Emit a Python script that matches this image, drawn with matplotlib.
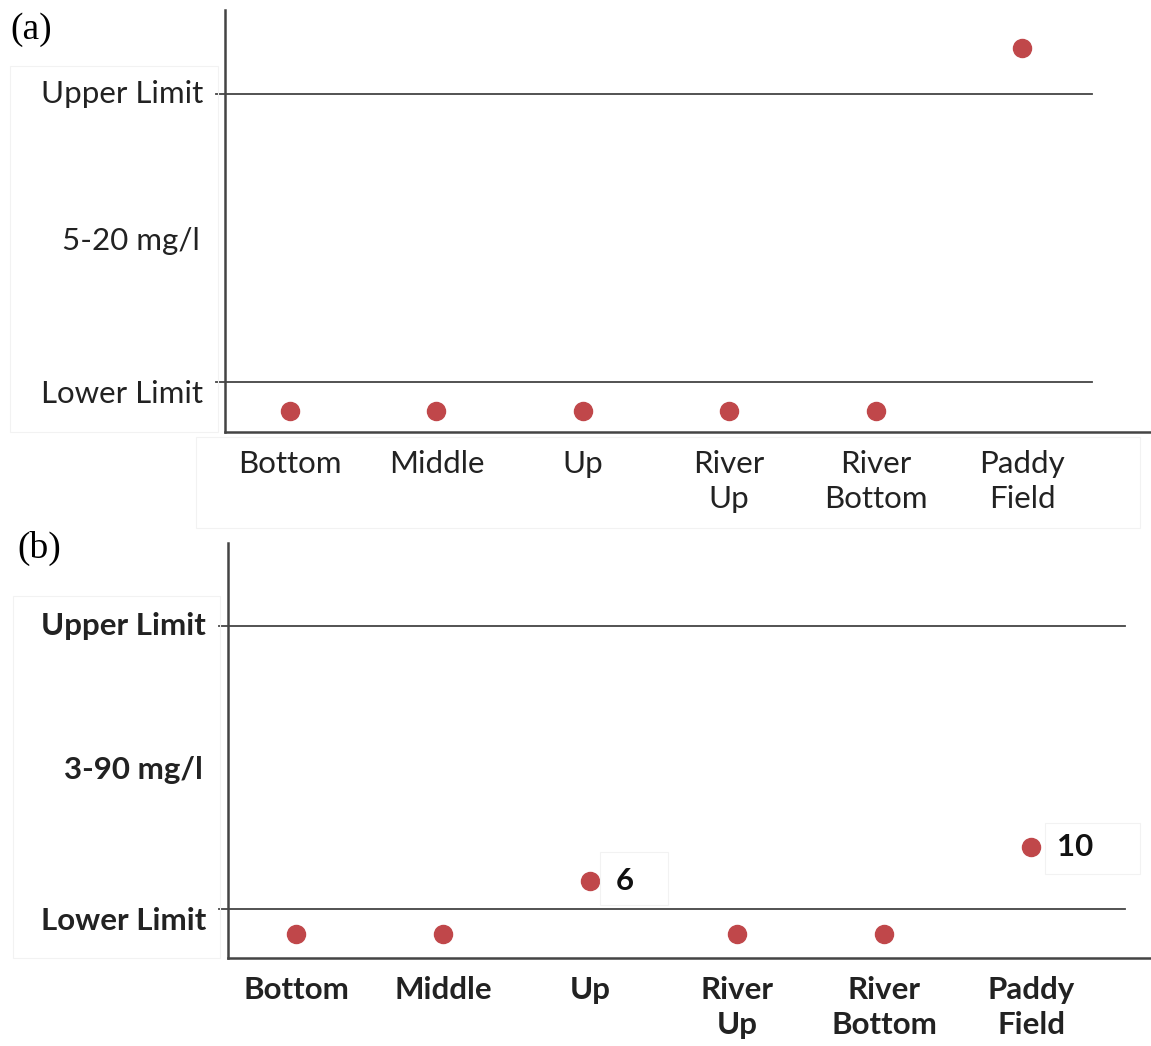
import matplotlib
matplotlib.use("Agg")
import matplotlib.pyplot as plt
from matplotlib.patches import Rectangle

# ---------------- data ----------------
categories = ["Bottom", "Middle", "Up", "River\nUp", "River\nBottom", "Paddy\nField"]
# relative position: 0 = lower limit, 1 = upper limit (schematic chart)
a_values = [-0.10, -0.10, -0.10, -0.10, -0.10, 1.16]
b_values = [-0.09, -0.09, 0.10, -0.09, -0.09, 0.22]
b_point_labels = ["", "", "6", "", "", "10"]
a_range_label = "5-20 mg/l"
b_range_label = "3-90 mg/l"
limit_labels = ["Upper Limit", "Lower Limit"]
limits = [1.0, 0.0]

W, H = 1151, 1046
fig = plt.figure(figsize=(W / 100, H / 100), dpi=100)
fig.patch.set_facecolor("white")

DOT = "#C0474A"
LINE = "#444444"
SANS = ["Lato", "DejaVu Sans"]
SERIF = ["Liberation Serif", "DejaVu Serif"]
FS = 22.5


def px_axes(left, top, right, bottom):
    return fig.add_axes([left / W, 1 - bottom / H, (right - left) / W, (bottom - top) / H])


def faint_box(x0, y0, x1, y1):
    fig.patches.append(Rectangle((x0 / W, 1 - y1 / H), (x1 - x0) / W, (y1 - y0) / H,
                                 transform=fig.transFigure, fill=False,
                                 edgecolor="#f2f2f2", linewidth=0.8, zorder=0))


def panel(ax, values, range_label, weight, xlim, ylim, line_end, point_labels=None):
    ax.set_xlim(*xlim)
    ax.set_ylim(*ylim)
    for s in ["top", "right"]:
        ax.spines[s].set_visible(False)
    for s in ["left", "bottom"]:
        ax.spines[s].set_color(LINE)
        ax.spines[s].set_linewidth(1.8)
    # limit lines
    for lv in limits:
        ax.plot([xlim[0] - 0.06, line_end], [lv, lv], color=LINE, lw=1.3,
                clip_on=False, zorder=2)
    # points
    ax.plot(range(len(categories)), values, linestyle="none", marker="o",
            markersize=13, color=DOT, markeredgecolor=DOT, zorder=3)
    if point_labels:
        for i, (v, lab) in enumerate(zip(values, point_labels)):
            if lab:
                ax.annotate(lab, xy=(i, v), xytext=(26, 0), textcoords="offset pixels",
                            ha="left", va="center", fontsize=FS, fontweight="bold",
                            family=SANS, color="#111111")
    # x tick labels
    ax.set_xticks(range(len(categories)))
    ax.set_xticklabels(categories, family=SANS, fontsize=FS, fontweight=weight,
                       color="#222222", linespacing=1.3)
    ax.tick_params(axis="x", length=0, pad=13)
    ax.set_yticks([])
    # y labels
    ax.annotate(limit_labels[0], xy=(0, limits[0]), xycoords=("axes fraction", "data"),
                xytext=(-22, 0), textcoords="offset pixels", ha="right", va="center",
                fontsize=FS, fontweight=weight, family=SANS, color="#222222")
    ax.annotate(limit_labels[1], xy=(0, limits[1]), xycoords=("axes fraction", "data"),
                xytext=(-22, -12), textcoords="offset pixels", ha="right", va="center",
                fontsize=FS, fontweight=weight, family=SANS, color="#222222")
    ax.annotate(range_label, xy=(0, (limits[0] + limits[1]) / 2), xycoords=("axes fraction", "data"),
                xytext=(-25, -3), textcoords="offset pixels", ha="right", va="center",
                fontsize=FS, fontweight=weight, family=SANS, color="#222222")


# panel (a)
ax1 = px_axes(225, 10, 1151, 432)
panel(ax1, a_values, a_range_label, "normal",
      xlim=((225 - 290) / 146.4, (1151 - 290) / 146.4),
      ylim=((382 - 432) / 288, (382 - 10) / 288),
      line_end=(1092 - 290) / 146.4)

# panel (b)
ax2 = px_axes(228, 543, 1151, 958)
panel(ax2, b_values, b_range_label, "bold",
      xlim=((228 - 296) / 147, (1151 - 296) / 147),
      ylim=((909 - 958) / 283, (909 - 543) / 283),
      line_end=(1125 - 296) / 147, point_labels=b_point_labels)

# faint text-box outlines
faint_box(10, 66, 218, 432)
faint_box(196, 437, 1140, 528)
faint_box(13, 596, 220, 958)
faint_box(600, 852, 668, 905)
faint_box(1045, 823, 1140, 874)

fig.text(10 / W, 1 - 30 / H, "(a)", family=SERIF, fontsize=27, va="center", ha="left")
fig.text(17 / W, 1 - 548 / H, "(b)", family=SERIF, fontsize=27, va="center", ha="left")

fig.savefig("out.png", dpi=100, facecolor="white")
